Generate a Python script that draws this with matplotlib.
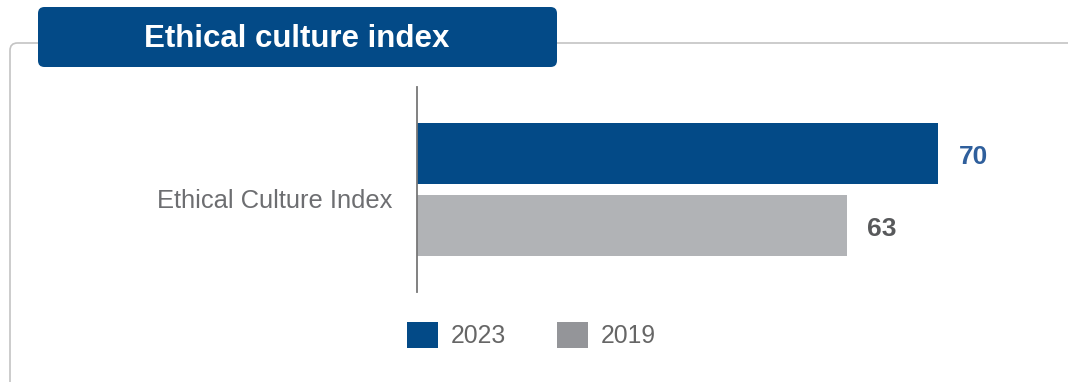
import matplotlib.pyplot as plt
from matplotlib.patches import FancyBboxPatch, Patch

plt.rcParams['font.family'] = ['Liberation Sans', 'DejaVu Sans']

# ── Data ──────────────────────────────────────────────────
title = "Ethical culture index"
category = "Ethical Culture Index"
years = ["2023", "2019"]
values = [70, 63]
bar_colors = ["#034a87", "#b1b3b6"]
legend_colors = ["#034a87", "#949599"]
label_colors = ["#2f5f9c", "#58595b"]

W, H = 1068, 382
fig = plt.figure(figsize=(W / 100, H / 100), dpi=100)

def px(x, y):
    # pixel coords (top-left origin) -> figure fraction
    return x / W, 1 - y / H

# ── Frame and title tab ───────────────────────────────────
frame = FancyBboxPatch(px(10, 420), (1100 - 10) / W, (420 - 43) / H,
                       boxstyle="round,pad=0,rounding_size=0.007",
                       transform=fig.transFigure, fill=False,
                       edgecolor="#c4c4c4", linewidth=1.2, mutation_aspect=W / H)
fig.patches.append(frame)

tab = FancyBboxPatch(px(38, 67), (557 - 38) / W, (67 - 7) / H,
                     boxstyle="round,pad=0,rounding_size=0.006",
                     transform=fig.transFigure, facecolor="#034a87",
                     edgecolor="none", mutation_aspect=W / H)
fig.patches.append(tab)
fig.text(*px(297, 39), title, color="white", fontsize=22.5, fontweight="bold",
         ha="center", va="center")

# ── Bars ─────────────────────────────────────────────────
ax = fig.add_axes([417 / W, (H - 292) / H, (W - 417) / W, 205 / H])
ypos = [1, 0]
ax.barh(ypos, values, height=0.85, color=bar_colors, left=0)
ax.set_xlim(30, 80)
ax.set_ylim(-0.925, 1.922)

for y, v, c in zip(ypos, values, label_colors):
    ax.annotate(str(v), xy=(v, y), xytext=(15, -2.5), textcoords="offset points",
                ha="left", va="center", fontsize=19, fontweight="bold", color=c)

for s in ["top", "right", "bottom"]:
    ax.spines[s].set_visible(False)
ax.spines["left"].set_color("#777777")
ax.spines["left"].set_linewidth(1.3)
ax.set_xticks([])
ax.set_yticks([0.38])
ax.set_yticklabels([category], fontsize=18.4, color="#6d6e71")
ax.tick_params(axis="y", length=0, pad=18)

# ── Legend ───────────────────────────────────────────────
handles = [Patch(facecolor=c, edgecolor="none") for c in legend_colors]
fig.legend(handles, years, loc="center left", bbox_to_anchor=px(407, 335),
           ncol=2, frameon=False, fontsize=17.8, labelcolor="#666666",
           handlelength=1.25, handleheight=1.25, handletextpad=0.53,
           columnspacing=2.06, borderpad=0, borderaxespad=0)

fig.savefig("out.png", dpi=100)
